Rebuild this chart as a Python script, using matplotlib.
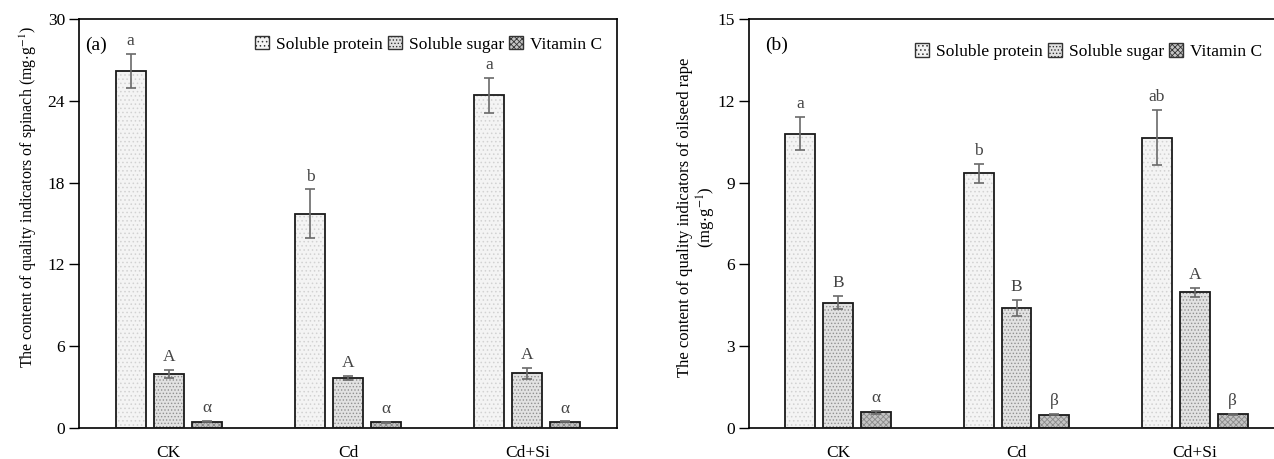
import numpy as np
import matplotlib
matplotlib.use('Agg')
import matplotlib.pyplot as plt

plt.rcParams['font.family'] = ['Liberation Serif', 'DejaVu Serif']
plt.rcParams['mathtext.fontset'] = 'stix'
plt.rcParams['hatch.linewidth'] = 0.6

# データ
groups = ['CK', 'Cd', 'Cd+Si']
series = ['Soluble protein', 'Soluble sugar', 'Vitamin C']

# (a) spinach
a_protein = [26.2, 15.7, 24.4]
a_protein_err = [1.25, 1.8, 1.3]
a_sugar = [3.95, 3.7, 4.0]
a_sugar_err = [0.3, 0.15, 0.4]
a_vitc = [0.46, 0.42, 0.45]
a_vitc_err = [0.03, 0.03, 0.03]
a_letters = [['a', 'b', 'a'], ['A', 'A', 'A'], ['α', 'α', 'α']]

# (b) oilseed rape
b_protein = [10.8, 9.35, 10.65]
b_protein_err = [0.6, 0.35, 1.0]
b_sugar = [4.6, 4.4, 4.97]
b_sugar_err = [0.25, 0.3, 0.15]
b_vitc = [0.57, 0.48, 0.5]
b_vitc_err = [0.05, 0.02, 0.03]
b_letters = [['a', 'b', 'ab'], ['B', 'B', 'A'], ['α', 'β', 'β']]

# 塗りとハッチ
faces = ['#f4f4f4', '#e2e2e2', '#c4c4c4']
hatches = ['....', '.....', 'xxxxxx']
hatch_cols = ['#d2d2d2', '#909090', '#8a8a8a']

fig = plt.figure(figsize=(12.74, 4.59), dpi=100)
W, H = 1274, 459
ax1 = fig.add_axes([79 / W, 1 - 428 / H, (617 - 79) / W, (428 - 19) / H])
ax2 = fig.add_axes([749 / W, 1 - 428 / H, (1284 - 749) / W, (428 - 19) / H])

width = 0.167
offs = [-0.212, 0.0, 0.212]
x = np.arange(len(groups))


def draw(ax, vals, errs, letters, ymax, step, tag, ylabel, leg_anchor, ylsize):
    handles = []
    for i in range(3):
        xs = x + offs[i]
        ax.bar(xs, vals[i], width, color=faces[i], hatch=hatches[i],
               edgecolor=hatch_cols[i], linewidth=0, zorder=2)
        ax.bar(xs, vals[i], width, fill=False, edgecolor='#1a1a1a',
               linewidth=1.3, zorder=3)
        ax.errorbar(xs, vals[i], yerr=errs[i], fmt='none', ecolor='#6a6a6a',
                    elinewidth=1.2, capsize=3.5, capthick=1.2, zorder=4)
        for j in range(3):
            ax.text(xs[j], vals[i][j] + errs[i][j] + ymax * 0.012, letters[i][j],
                    ha='center', va='bottom', fontsize=12.5, color='#444444')
        h = plt.Rectangle((0, 0), 1, 1, facecolor=faces[i], hatch=hatches[i],
                          edgecolor='#333333', linewidth=1.0)
        handles.append(h)
    ax.set_xlim(-0.5, 2.5)
    ax.set_ylim(0, ymax)
    ax.set_yticks(np.arange(0, ymax + 0.1, step))
    ax.set_xticks(x)
    ax.set_xticklabels(groups)
    ax.tick_params(axis='x', length=0, pad=12, labelsize=12.5)
    ax.tick_params(axis='y', direction='out', length=7, width=1, labelsize=12.5, pad=3)
    for s in ax.spines.values():
        s.set_linewidth(1.2)
    ax.text(0.012 if tag == '(a)' else 0.03, 0.935, tag, transform=ax.transAxes,
            fontsize=14, ha='left', va='center')
    ax.set_ylabel(ylabel, fontsize=ylsize, linespacing=1.1)
    ax.legend(handles, series, ncol=3, frameon=False, fontsize=12.5,
              loc='center right', bbox_to_anchor=leg_anchor,
              handlelength=0.8, handleheight=0.8, handletextpad=0.4,
              columnspacing=0.3, borderaxespad=0)


draw(ax1, [a_protein, a_sugar, a_vitc],
     [a_protein_err, a_sugar_err, a_vitc_err], a_letters, 30, 6, '(a)',
     'The content of quality indicators of spinach (mg$\\cdot$g$^{-1}$)',
     (0.985, 0.938), 11.5)
draw(ax2, [b_protein, b_sugar, b_vitc],
     [b_protein_err, b_sugar_err, b_vitc_err], b_letters, 15, 3, '(b)',
     'The content of quality indicators of oilseed rape\n(mg$\\cdot$g$^{-1}$)',
     (0.972, 0.92), 12)
ax1.yaxis.set_label_coords(-0.075, 0.565)
ax2.yaxis.set_label_coords(-0.058, 0.516)

fig.savefig('out.png', dpi=100)
